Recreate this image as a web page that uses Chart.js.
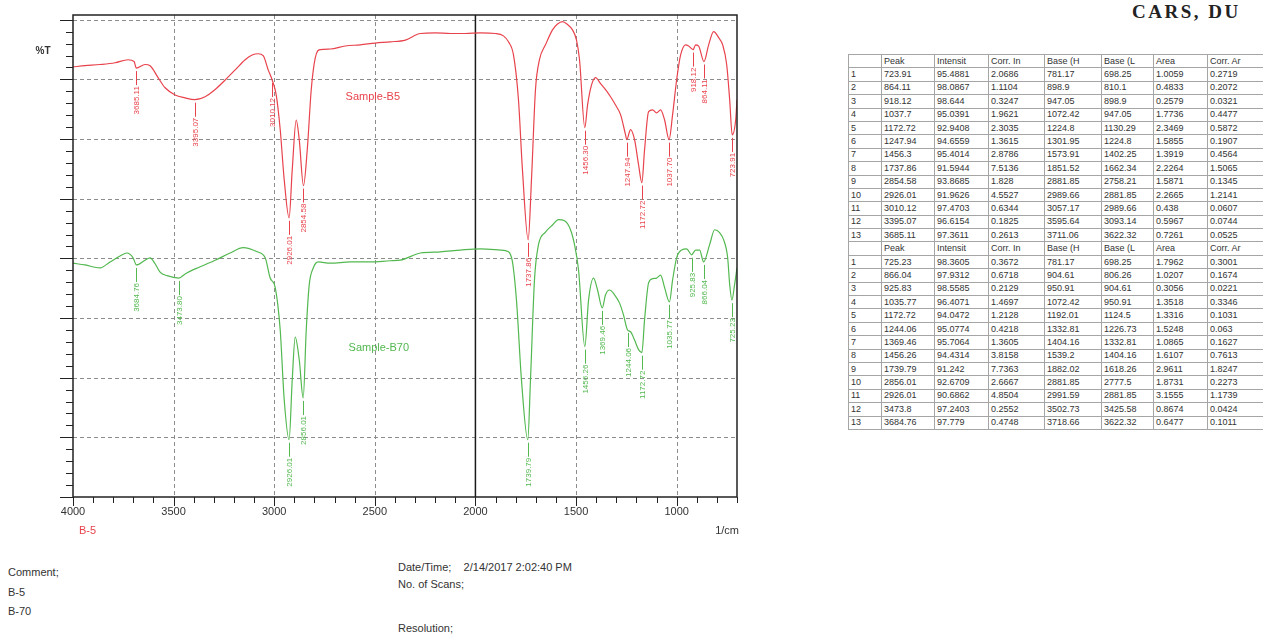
<!DOCTYPE html>
<html>
<head>
<meta charset="utf-8">
<title>FTIR B-5 / B-70</title>
<script src="https://cdn.jsdelivr.net/npm/chart.js@4.4.1/dist/chart.umd.min.js"></script>
<style>
    body { margin: 0; width: 1263px; height: 635px; overflow: hidden; position: relative; background: #fff;
           font-family: "Liberation Sans", Arial, sans-serif; color: #333; }
    #espectroBox { position: absolute; left: 0; top: 0; width: 760px; height: 560px; }
    .txt { position: absolute; font-size: 11px; line-height: 12px; white-space: nowrap; }
    .titulo { position: absolute; left: 1132px; top: 1px; font: bold 19px "Liberation Serif", "Times New Roman", serif;
              letter-spacing: 2.5px; color: #222; white-space: nowrap; }
    #tabelaPicos { position: absolute; left: 848px; top: 54px; border-collapse: collapse; table-layout: fixed; width: 419px; }
    #tabelaPicos td { height: 12.4px; padding: 0 2px; border: 1px solid #a5a5a5; font-size: 9px; line-height: 11px;
                      color: #333; white-space: nowrap; overflow: hidden; }
</style>
</head>
<body>

<div id="espectroBox"><canvas id="espectro" width="760" height="560"></canvas></div>

<div class="titulo">CARS, DU</div>
<table id="tabelaPicos">
    <colgroup>
        <col style="width:33px"><col style="width:53px"><col style="width:54px"><col style="width:56px">
        <col style="width:57px"><col style="width:52px"><col style="width:54px"><col style="width:60px">
    </colgroup>
    <tbody id="tabelaCorpo"></tbody>
</table>

<div class="txt" style="left:8px; top:566px;">Comment;</div>
<div class="txt" style="left:8px; top:586px;">B-5</div>
<div class="txt" style="left:8px; top:605px;">B-70</div>
<div class="txt" style="left:398px; top:561px;">Date/Time;&nbsp;&nbsp;&nbsp; 2/14/2017 2:02:40 PM</div>
<div class="txt" style="left:398px; top:578px;">No. of Scans;</div>
<div class="txt" style="left:398px; top:622px;">Resolution;</div>

<script>
// ============================================================
// DADOS DOS ESPECTROS
// ============================================================

// Amostra B-5 (número de onda em 1/cm, %T com deslocamento)
const numeroOndaB5 = [4000, 3940.3, 3865.7, 3791.1, 3726.4, 3696.5, 3685.11, 3641.8, 3616.9, 3577.1,
    3542.3, 3492.6, 3442.8, 3395.07, 3343.3, 3293.5, 3243.8, 3194.0, 3144.3, 3109.5,
    3079.6, 3054.8, 3029.9, 3010.12, 2990.1, 2970.2, 2950.3, 2926.01, 2910.5, 2890.6,
    2875.6, 2854.58, 2835.8, 2815.9, 2796.0, 2771.2, 2721.4, 2646.8, 2572.2, 2497.6,
    2422.9, 2348.3, 2273.7, 2199.1, 2124.4, 2049.8, 1975.1, 1900.5, 1860.7, 1835.8,
    1810.9, 1786.1, 1766.2, 1737.86, 1721.4, 1701.5, 1681.7, 1651.8, 1617.0, 1592.1,
    1567.2, 1542.4, 1517.5, 1497.6, 1482.6, 1456.3, 1442.8, 1422.9, 1403.0, 1378.2,
    1353.3, 1328.4, 1303.6, 1278.7, 1253.8, 1247.94, 1229.0, 1209.1, 1189.2, 1172.72,
    1159.4, 1139.4, 1119.5, 1099.6, 1079.7, 1059.8, 1037.7, 1020.0, 1000.1, 980.2,
    955.3, 940.4, 918.12, 905.6, 890.6, 864.11, 840.9, 816.0, 791.1, 771.2,
    751.3, 736.4, 723.91, 706.6, 700];
const transmitanciaB5 = [72.1, 72.3, 72.5, 72.8, 73.3, 73.0, 71.9, 72.5, 72.3, 70.3,
    68.6, 67.4, 66.9, 66.6, 67.1, 68.3, 69.9, 71.6, 73.3, 74.1,
    74.3, 74.0, 71.6, 69.9, 67.4, 61.6, 53.2, 46.8, 54.8, 63.2,
    59.9, 52.2, 58.2, 68.3, 73.6, 75.0, 75.1, 75.6, 75.8, 76.1,
    76.3, 76.6, 77.7, 77.8, 77.7, 77.7, 77.8, 77.7, 77.3, 76.3,
    74.1, 66.6, 54.8, 43.1, 53.2, 68.3, 73.3, 75.8, 78.3, 79.3,
    79.7, 79.2, 78.3, 76.6, 73.3, 61.9, 65.7, 69.1, 70.3, 69.3,
    68.3, 67.1, 65.7, 64.1, 60.7, 59.9, 61.6, 59.9, 55.7, 52.7,
    58.2, 64.6, 64.9, 64.4, 64.9, 63.2, 59.9, 64.1, 69.9, 74.1,
    75.8, 75.6, 75.0, 75.8, 75.6, 73.0, 75.8, 78.0, 77.0, 75.8,
    72.5, 66.6, 60.7, 63.2, 66.6];

// Amostra B-70
const numeroOndaB70 = [4000, 3940.3, 3865.7, 3815.9, 3766.2, 3731.4, 3701.5, 3684.76, 3641.8, 3616.9,
    3592.0, 3567.2, 3532.4, 3473.8, 3442.8, 3368.2, 3293.5, 3218.9, 3154.3, 3084.6,
    3044.8, 3019.9, 2995.0, 2970.2, 2950.3, 2926.01, 2910.5, 2895.6, 2875.6, 2856.01,
    2840.8, 2825.9, 2805.9, 2781.1, 2721.4, 2621.9, 2522.4, 2422.9, 2373.2, 2273.7,
    2174.2, 2074.7, 1975.1, 1875.6, 1835.8, 1815.9, 1796.0, 1771.1, 1739.79, 1726.4,
    1706.5, 1686.6, 1651.8, 1617.0, 1587.1, 1557.3, 1527.4, 1507.5, 1487.6, 1456.26,
    1437.8, 1413.0, 1393.1, 1369.46, 1353.3, 1333.4, 1308.5, 1283.7, 1263.8, 1244.06,
    1229.0, 1209.1, 1189.2, 1172.72, 1159.4, 1139.4, 1119.5, 1099.6, 1079.7, 1059.8,
    1035.77, 1020.0, 1000.0, 975.1, 950.3, 925.83, 905.6, 885.7, 866.04, 836.0,
    811.0, 786.2, 766.3, 746.4, 736.3, 725.23, 712.0, 700];
const transmitanciaB70 = [39.2, 38.9, 38.4, 39.4, 40.4, 40.9, 40.1, 38.9, 39.7, 40.1,
    39.1, 37.7, 37.1, 36.7, 37.4, 38.6, 39.7, 40.9, 41.8, 41.1,
    40.1, 36.7, 35.1, 28.0, 16.3, 9.6, 19.6, 26.8, 23.0, 16.6,
    28.0, 35.6, 38.4, 39.4, 39.2, 39.4, 39.4, 39.6, 39.7, 40.9,
    41.1, 41.4, 41.6, 41.4, 41.1, 39.4, 33.0, 19.6, 9.6, 19.6,
    36.4, 42.3, 44.4, 45.6, 46.5, 46.3, 44.8, 42.3, 38.1, 25.2,
    33.0, 36.7, 34.7, 31.7, 33.9, 34.7, 33.9, 32.5, 30.5, 28.0,
    27.7, 26.3, 24.7, 24.2, 29.7, 35.9, 36.6, 36.7, 37.2, 35.1,
    32.7, 36.4, 40.1, 41.4, 41.6, 40.6, 41.4, 41.4, 39.4, 42.3,
    44.8, 44.3, 43.1, 40.1, 35.6, 33.0, 35.6, 38.4];

// Eixos
const marcasX = [4000, 3500, 3000, 2500, 2000, 1500, 1000];
const gradeY = [0, 10, 20, 30, 40, 50, 60, 70, 80];

// ============================================================
// TABELA DE PICOS
// ============================================================

// colunas estreitas: o software mostra os títulos cortados
const cabecalhoTabela = ['', 'Peak', 'Intensit', 'Corr. In', 'Base (H', 'Base (L', 'Area', 'Corr. Ar'];

const picosB5 = [723.91, 864.11, 918.12, 1037.7, 1172.72, 1247.94, 1456.3, 1737.86, 2854.58, 2926.01, 3010.12, 3395.07, 3685.11];
const intensidadeB5 = [95.4881, 98.0867, 98.644, 95.0391, 92.9408, 94.6559, 95.4014, 91.5944, 93.8685, 91.9626, 97.4703, 96.6154, 97.3611];
const corrIntensidadeB5 = [2.0686, 1.1104, 0.3247, 1.9621, 2.3035, 1.3615, 2.8786, 7.5136, 1.828, 4.5527, 0.6344, 0.1825, 0.2613];
const baseAltaB5 = [781.17, 898.9, 947.05, 1072.42, 1224.8, 1301.95, 1573.91, 1851.52, 2881.85, 2989.66, 3057.17, 3595.64, 3711.06];
const baseBaixaB5 = [698.25, 810.1, 898.9, 947.05, 1130.29, 1224.8, 1402.25, 1662.34, 2758.21, 2881.85, 2989.66, 3093.14, 3622.32];
const areaB5 = [1.0059, 0.4833, 0.2579, 1.7736, 2.3469, 1.5855, 1.3919, 2.2264, 1.5871, 2.2665, 0.438, 0.5967, 0.7261];
const corrAreaB5 = [0.2719, 0.2072, 0.0321, 0.4477, 0.5872, 0.1907, 0.4564, 1.5065, 0.1345, 1.2141, 0.0607, 0.0744, 0.0525];

const picosB70 = [725.23, 866.04, 925.83, 1035.77, 1172.72, 1244.06, 1369.46, 1456.26, 1739.79, 2856.01, 2926.01, 3473.8, 3684.76];
const intensidadeB70 = [98.3605, 97.9312, 98.5585, 96.4071, 94.0472, 95.0774, 95.7064, 94.4314, 91.242, 92.6709, 90.6862, 97.2403, 97.779];
const corrIntensidadeB70 = [0.3672, 0.6718, 0.2129, 1.4697, 1.2128, 0.4218, 1.3605, 3.8158, 7.7363, 2.6667, 4.8504, 0.2552, 0.4748];
const baseAltaB70 = [781.17, 904.61, 950.91, 1072.42, 1192.01, 1332.81, 1404.16, 1539.2, 1882.02, 2881.85, 2991.59, 3502.73, 3718.66];
const baseBaixaB70 = [698.25, 806.26, 904.61, 950.91, 1124.5, 1226.73, 1332.81, 1404.16, 1618.26, 2777.5, 2881.85, 3425.58, 3622.32];
const areaB70 = [1.7962, 1.0207, 0.3056, 1.3518, 1.3316, 1.5248, 1.0865, 1.6107, 2.9611, 1.8731, 3.1555, 0.8674, 0.6477];
const corrAreaB70 = [0.3001, 0.1674, 0.0221, 0.3346, 0.1031, 0.063, 0.1627, 0.7613, 1.8247, 0.2273, 1.1739, 0.0424, 0.1011];

const COR_B5 = '#e8434c';
const COR_B70 = '#52b84f';

function linhasTabela(picos, colunas) {
    return picos.map((p, i) => `
        <tr><td>${i + 1}</td><td>${p}</td>${colunas.map(c => `<td>${c[i]}</td>`).join('')}</tr>`).join('');
}

function renderTabelaPicos() {
    const cab = `<tr>${cabecalhoTabela.map(h => `<td>${h}</td>`).join('')}</tr>`;
    document.getElementById('tabelaCorpo').innerHTML =
        cab + linhasTabela(picosB5, [intensidadeB5, corrIntensidadeB5, baseAltaB5, baseBaixaB5, areaB5, corrAreaB5]) +
        cab + linhasTabela(picosB70, [intensidadeB70, corrIntensidadeB70, baseAltaB70, baseBaixaB70, areaB70, corrAreaB70]);
}

// ============================================================
// PLUGIN: grade tracejada, moldura, marcas menores e rótulos de pico
// ============================================================

function traco(ctx, x1, y1, x2, y2) {
    ctx.beginPath();
    ctx.moveTo(x1, y1);
    ctx.lineTo(x2, y2);
    ctx.stroke();
}

function rotulosPico(chart, dsIndex, picos, cor) {
    const { ctx, scales: { x, y } } = chart;
    const ds = chart.data.datasets[dsIndex];
    ctx.strokeStyle = cor;
    ctx.fillStyle = cor;
    ctx.lineWidth = 1;
    ctx.font = '8px "Liberation Sans", Arial, sans-serif';
    ctx.textAlign = 'right';
    ctx.textBaseline = 'middle';
    picos.forEach(p => {
        const ponto = ds.data.find(d => d.x === p);
        if (!ponto) return;
        const px = Math.round(x.getPixelForValue(p)) + 0.5;
        const py = y.getPixelForValue(ponto.y);
        traco(ctx, px, py + 3, px, py + 17);
        ctx.save();
        ctx.translate(px, py + 18);
        ctx.rotate(-Math.PI / 2);
        ctx.fillText(p.toFixed(2), 0, 0);
        ctx.restore();
    });
}

const decoracaoEspectro = {
    id: 'decoracaoEspectro',
    beforeDatasetsDraw(chart) {
        const { ctx, chartArea: a, scales: { x, y } } = chart;
        ctx.save();
        ctx.lineWidth = 1;
        ctx.strokeStyle = '#8c8c8c';
        ctx.setLineDash([4, 3]);
        marcasX.forEach(v => {
            if (v === 4000 || v === 2000) return;
            const px = Math.round(x.getPixelForValue(v)) + 0.5;
            traco(ctx, px, a.top, px, a.bottom);
        });
        gradeY.forEach(v => {
            if (v === 0) return;
            const py = Math.round(y.getPixelForValue(v)) + 0.5;
            traco(ctx, a.left, py, a.right, py);
        });
        ctx.setLineDash([]);

        // separação em 2000 1/cm
        ctx.strokeStyle = '#1a1a1a';
        ctx.lineWidth = 1.5;
        const p2000 = x.getPixelForValue(2000);
        traco(ctx, p2000, a.top, p2000, a.bottom);
        ctx.restore();
    },
    afterDatasetsDraw(chart) {
        const { ctx, chartArea: a, scales: { x, y } } = chart;
        ctx.save();

        // moldura
        ctx.strokeStyle = '#222';
        ctx.lineWidth = 1.5;
        ctx.strokeRect(a.left, a.top, a.right - a.left, a.bottom - a.top);

        // marcas do eixo Y (maiores a cada 10, menores a cada 2)
        ctx.lineWidth = 1;
        for (let v = 0; v <= y.max; v += 2) {
            const py = Math.round(y.getPixelForValue(v)) + 0.5;
            const len = v % 10 === 0 ? 13 : 7;
            traco(ctx, a.left - len, py, a.left, py);
        }

        // marcas do eixo X (maiores a cada 500, menores a cada 100)
        for (let v = 4000; v >= x.min; v -= 100) {
            const px = Math.round(x.getPixelForValue(v)) + 0.5;
            const len = v % 500 === 0 ? 9 : 6;
            traco(ctx, px, a.bottom, px, a.bottom + len);
        }

        // rótulos dos eixos
        ctx.fillStyle = '#333';
        ctx.font = 'bold 10px "Liberation Sans", Arial, sans-serif';
        ctx.textAlign = 'center';
        ctx.textBaseline = 'middle';
        ctx.fillText('%T', a.left - 30, a.top + 36);
        ctx.font = '11px "Liberation Sans", Arial, sans-serif';
        ctx.textAlign = 'right';
        ctx.fillText('1/cm', a.right + 2, a.bottom + 34);
        ctx.fillStyle = COR_B5;
        ctx.textAlign = 'left';
        ctx.fillText('B-5', a.left + 6, a.bottom + 34);

        // nomes das amostras
        ctx.font = '11px "Liberation Sans", Arial, sans-serif';
        ctx.textAlign = 'center';
        ctx.fillText('Sample-B5', x.getPixelForValue(2510), y.getPixelForValue(67.1));
        ctx.fillStyle = COR_B70;
        ctx.fillText('Sample-B70', x.getPixelForValue(2480), y.getPixelForValue(25.0));

        // picos
        rotulosPico(chart, 0, picosB5, COR_B5);
        rotulosPico(chart, 1, picosB70, COR_B70);
        ctx.restore();
    }
};

// ============================================================
// GRÁFICO (Chart.js)
// ============================================================

function criarEspectro() {
    const ctx = document.getElementById('espectro');
    const serie = (xs, ys) => xs.map((v, i) => ({ x: v, y: ys[i] }));

    window.espectroInstance = new Chart(ctx, {
        type: 'line',
        data: {
            datasets: [{
                label: 'Sample-B5',
                data: serie(numeroOndaB5, transmitanciaB5),
                borderColor: COR_B5,
                borderWidth: 1.2,
                pointRadius: 0,
                cubicInterpolationMode: 'monotone'
            }, {
                label: 'Sample-B70',
                data: serie(numeroOndaB70, transmitanciaB70),
                borderColor: COR_B70,
                borderWidth: 1.2,
                pointRadius: 0,
                cubicInterpolationMode: 'monotone'
            }]
        },
        options: {
            responsive: false,
            animation: false,
            devicePixelRatio: 1,
            layout: { padding: { left: 73, right: 23, top: 15, bottom: 0 } },
            plugins: { legend: { display: false }, tooltip: { enabled: false } },
            scales: {
                x: {
                    type: 'linear',
                    reverse: true,
                    min: 700,
                    max: 4000,
                    afterBuildTicks: s => { s.ticks = marcasX.map(v => ({ value: v })); },
                    afterFit: s => { s.height = 63; },
                    grid: { display: false, drawTicks: false },
                    border: { display: false },
                    ticks: {
                        padding: 8,
                        color: '#333',
                        maxRotation: 0,
                        font: { size: 11, family: '"Liberation Sans", Arial, sans-serif' },
                        callback: v => String(v)
                    }
                },
                y: {
                    display: false,
                    min: 0,
                    max: 80.8
                }
            }
        },
        plugins: [decoracaoEspectro]
    });
}

renderTabelaPicos();
criarEspectro();
</script>
</body>
</html>
